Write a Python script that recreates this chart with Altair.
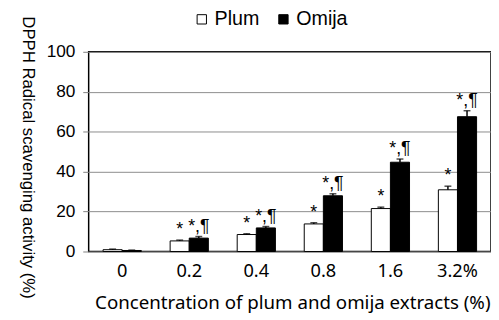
import altair as alt
import pandas as pd

concentrations = ["0", "0.2", "0.4", "0.8", "1.6", "3.2%"]
plum_values = [0.9, 5.3, 8.5, 13.8, 21.5, 30.9]
omija_values = [0.5, 6.7, 11.8, 27.9, 44.7, 67.5]
plum_errors = [0.3, 0.4, 0.4, 0.6, 0.7, 1.8]
omija_errors = [0.2, 0.8, 0.7, 1.0, 1.6, 3.0]
plum_marks = ["", "*", "*", "*", "*", "*"]
omija_marks = ["", "*,¶", "*,¶", "*,¶", "*,¶", "*,¶"]
series = ["Plum", "Omija"]

rows = []
for i, c in enumerate(concentrations):
    rows.append({"conc": c, "extract": "Plum", "value": plum_values[i],
                 "err": plum_errors[i], "mark": plum_marks[i]})
    rows.append({"conc": c, "extract": "Omija", "value": omija_values[i],
                 "err": omija_errors[i], "mark": omija_marks[i]})
df = pd.DataFrame(rows)
df["top"] = df["value"] + df["err"]

FONT = "Liberation Sans"

x = alt.X("conc:N", sort=concentrations,
          scale=alt.Scale(paddingInner=0.43, paddingOuter=0.215),
          axis=alt.Axis(title="Concentration of plum and omija extracts (%)",
                        labelAngle=0, ticks=False, domain=False,
                        labelFont="Noto Sans", labelFontSize=18.5, labelColor="black",
                        labelPadding=10,
                        titleFont="Noto Sans", titleFontSize=19, titleFontWeight="normal",
                        titleColor="black", titlePadding=14, titleX=207))
xo = alt.XOffset("extract:N", sort=series, scale=alt.Scale(domain=series, paddingInner=0))

color = alt.Color("extract:N", sort=series,
                  scale=alt.Scale(domain=series, range=["white", "black"]),
                  legend=alt.Legend(title=None, orient="none", direction="horizontal",
                                    legendX=105, legendY=-43,
                                    symbolType="square", symbolSize=90,
                                    symbolStrokeColor="black", symbolStrokeWidth=1,
                                    labelFont=FONT, labelFontSize=20, labelColor="black",
                                    columnPadding=14, labelOffset=3))

y = alt.Y("value:Q", scale=alt.Scale(domain=[0, 100]),
          axis=alt.Axis(values=[0, 20, 40, 60, 80, 100], tickSize=6, tickColor="#808080",
                        domain=False, grid=True, gridColor="#8c8c8c", gridWidth=1,
                        labelFont=FONT, labelFontSize=17.5, labelColor="black", labelPadding=8,
                        title="DPPH Radical scavenging activity (%)",
                        titleFont=FONT, titleFontSize=17, titleFontWeight="normal",
                        titleColor="black", titleAngle=90, titleX=-62, titleY=107,
                        titleAlign="center", titleBaseline="middle"))

bars = alt.Chart(df).mark_bar(stroke="black", strokeWidth=1).encode(
    x=x, xOffset=xo, y=y, color=color)

err = alt.Chart(df).mark_rule(color="black", strokeWidth=1.5).encode(
    x=x, xOffset=xo, y="value:Q", y2="top:Q")

caps = alt.Chart(df).mark_tick(color="black", thickness=1.5, size=7).encode(
    x=x, xOffset=xo, y="top:Q")

labels = alt.Chart(df).mark_text(font=FONT, fontSize=18, color="black",
                                 baseline="bottom", dy=-1).encode(
    x=x, xOffset=xo, y="top:Q", text="mark:N")

chart = alt.layer(bars, err, caps, labels).properties(
    width=409, height=203,
    autosize=alt.AutoSizeParams(type="none"),
    padding={"left": 82, "top": 42, "right": 0, "bottom": 60},
).configure_view(stroke="black", strokeWidth=1.5)

chart.save("out.html", embed_options={"renderer": "svg", "actions": False})
